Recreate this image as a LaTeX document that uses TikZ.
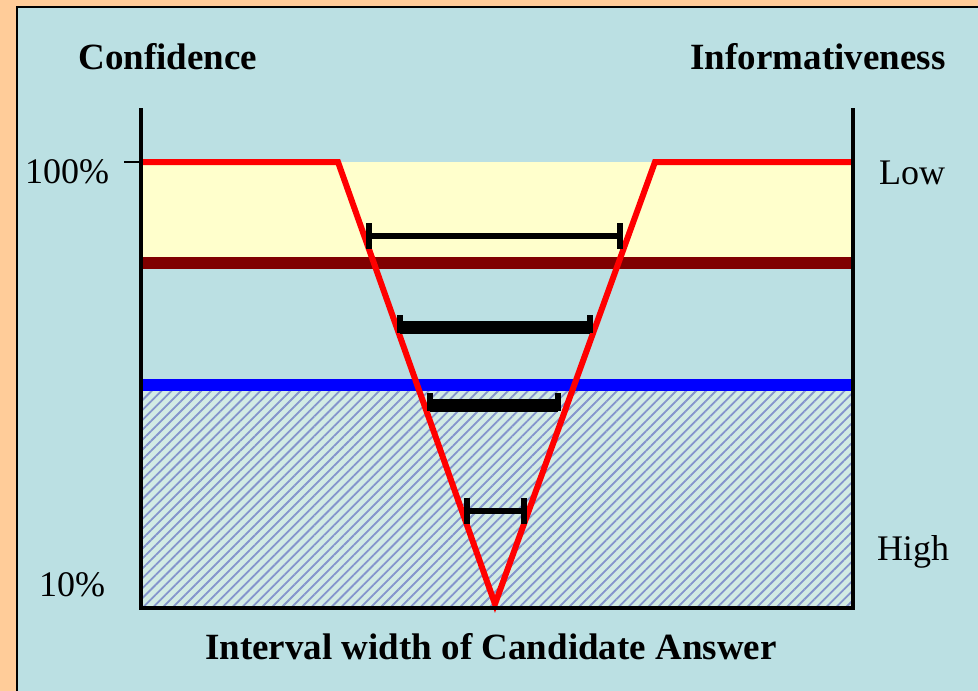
\documentclass[tikz,border=0pt]{standalone}
\usepackage{fontspec}
\setmainfont{Liberation Serif}
\usepackage{xcolor}
\usetikzlibrary{arrows.meta,patterns.meta,positioning}
\definecolor{slidebg}{HTML}{FFCC99}
\definecolor{panelblue}{HTML}{BBE0E3}
\definecolor{paleyellow}{HTML}{FFFFCC}
\definecolor{darkmaroon}{HTML}{800000}
\definecolor{hatchfill}{HTML}{D2EBE4}
\definecolor{hatchline}{HTML}{8494CC}

\begin{document}
\begin{tikzpicture}[x=1pt,y=-1pt,
  lbl/.style={font=\fontsize{36}{40}\selectfont, inner sep=0pt},
  head/.style={font=\fontsize{37}{41}\selectfont\bfseries, inner sep=0pt},
  axisline/.style={line width=4pt},
  band/.style={line width=12pt},
  thinbar/.style={line width=6pt},
  thickbar/.style={line width=13pt},
  barcap/.style={line width=6.5pt}]
\useasboundingbox (0,0) rectangle (978,691);
% slide background and panel
\fill[slidebg] (0,0) rectangle (978,691);
\fill[panelblue] (17,7) rectangle (978,691);
\draw[line width=1.5pt] (17,691) -- (17,7) -- (978,7);
% confidence regions
\fill[paleyellow] (143,162) rectangle (851,263);
\fill[hatchfill] (143,391) rectangle (851,606);
\fill[pattern={Lines[angle=45,distance=7pt,line width=1.8pt]}, pattern color=hatchline] (143,391) rectangle (851,606);
\coordinate (ml) at (140,263);
\coordinate (mr) at (853,263);
\coordinate (bl) at (140,385);
\coordinate (br) at (853,385);
\draw[band, darkmaroon] (ml) -- (mr);
\draw[band, blue] (bl) -- (br);
% the V of interval widths
\coordinate (tl) at (143,162);
\coordinate (vl) at (338,162);
\coordinate (vb) at (495,604);
\coordinate (vr) at (655,162);
\coordinate (tr) at (851,162);
\draw[red, line width=6pt, line join=miter] (tl) -- (vl) -- (vb) -- (vr) -- (tr);
% axes
\coordinate (ltop) at (141,108);
\coordinate (lbot) at (141,609.5);
\coordinate (rtop) at (853,108);
\coordinate (rbot) at (853,609.5);
\draw[axisline] (ltop) -- (lbot);
\draw[axisline] (rtop) -- (rbot);
\draw[axisline] (139,607.5) -- (855,607.5);
\draw[line width=2pt] (124,162) -- (141,162);
% candidate answer intervals
\coordinate (a1) at (369,236);  \coordinate (b1) at (620,236);
\coordinate (a2) at (400,327);  \coordinate (b2) at (590,327);
\coordinate (a3) at (430,405);  \coordinate (b3) at (558,405);
\coordinate (a4) at (467,511);  \coordinate (b4) at (524,511);
\draw[thinbar] (a1) -- (b1);
\draw[barcap] (a1) ++(0,-13) -- ++(0,26);
\draw[barcap] (b1) ++(0,-13) -- ++(0,26);
\draw[thickbar] (a2) -- (b2);
\draw[barcap] (a2) ++(0,-12) -- ++(0,18);
\draw[barcap] (b2) ++(0,-12) -- ++(0,18);
\draw[thickbar] (a3) -- (b3);
\draw[barcap] (a3) ++(0,-12) -- ++(0,18);
\draw[barcap] (b3) ++(0,-12) -- ++(0,18);
\draw[thinbar] (a4) -- (b4);
\draw[barcap] (a4) ++(0,-13) -- ++(0,26);
\draw[barcap] (b4) ++(0,-13) -- ++(0,26);
% labels
\node[head] (conf) at (168,57) {Confidence};
\node[head] (info) at (818,57) {Informativeness};
\node[lbl] (top) at (67,172) {100\%};
\node[lbl] (bottom) at (72,585) {10\%};
\node[lbl] (low) at (912,173) {Low};
\node[lbl] (high) at (913,552) {High};
\node[head] (width) at (491,647) {Interval width of Candidate Answer};
\end{tikzpicture}
\end{document}
